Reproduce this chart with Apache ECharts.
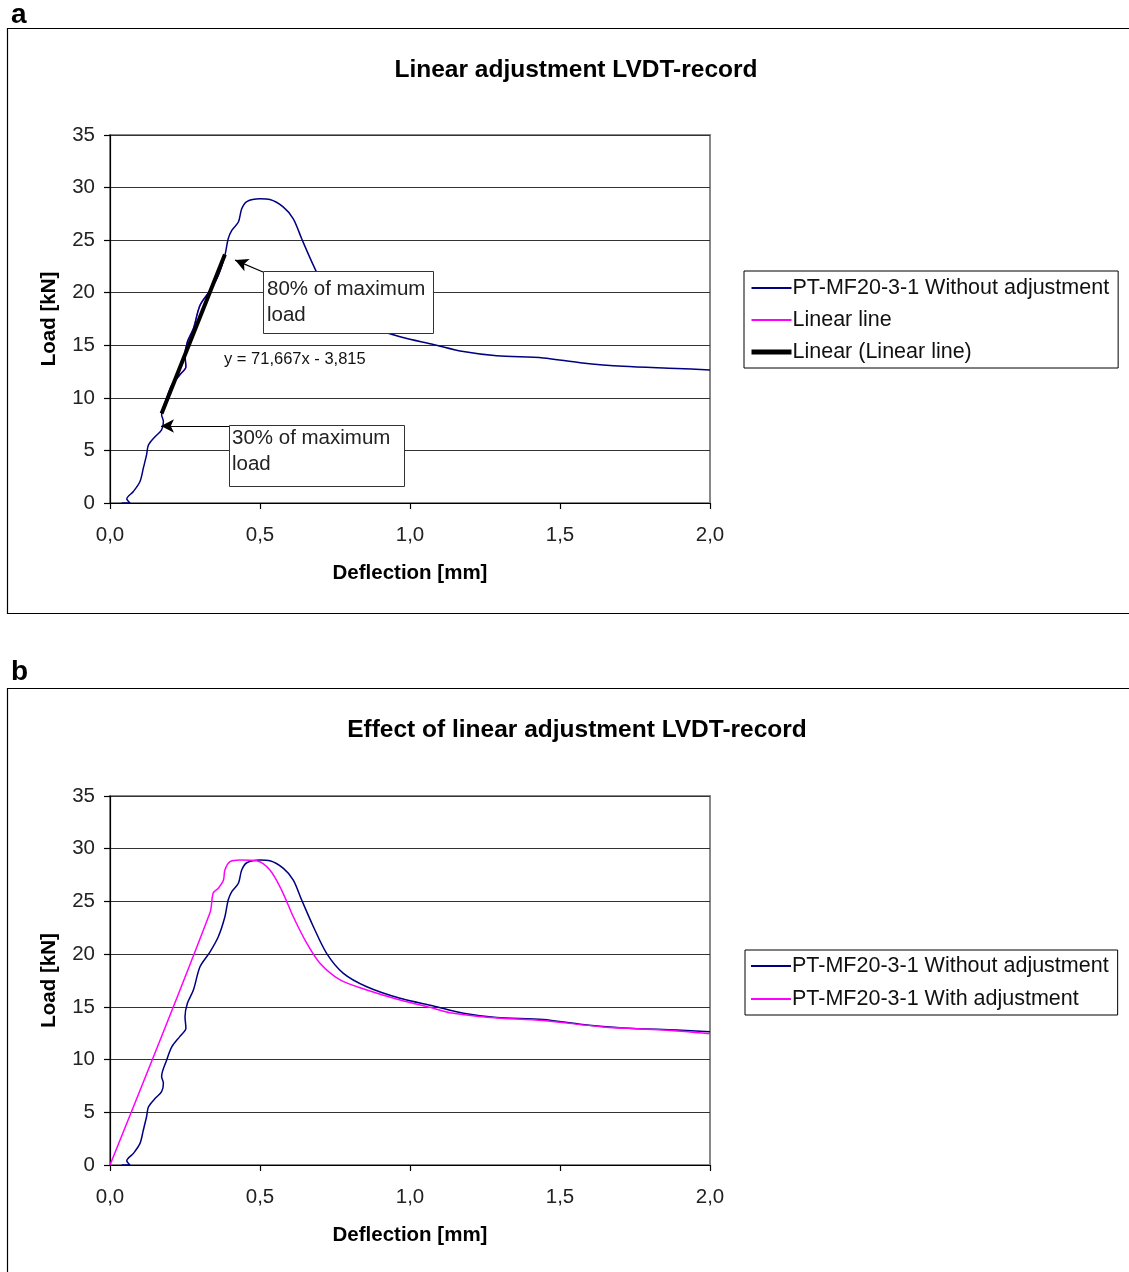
<!DOCTYPE html>
<html>
<head>
<meta charset="utf-8">
<title>Linear adjustment LVDT-record</title>
<script src="https://cdn.jsdelivr.net/npm/echarts@6/dist/echarts.min.js"></script>
<style>
  html, body { margin: 0; padding: 0; background: #fff; }
  #chart { width: 1129px; height: 1272px; }
</style>
</head>
<body>
<div id="chart"></div>
<script>
// Load-deflection record of specimen PT-MF20-3-1 (deflection in mm, load in kN)
const rawRecord = [
  [0.039, 0.0], [0.067, 0.0], [0.056, 0.4], [0.078, 1.1], [0.100, 2.05], [0.111, 3.3],
  [0.122, 4.6], [0.128, 5.5], [0.150, 6.3], [0.172, 6.95], [0.178, 7.75], [0.172, 8.4],
  [0.189, 9.96], [0.206, 11.2], [0.233, 12.2], [0.253, 12.97], [0.250, 14.07], [0.258, 15.34],
  [0.278, 16.6], [0.300, 18.8], [0.333, 20.2], [0.361, 21.65], [0.383, 23.55], [0.394, 25.13],
  [0.406, 25.93], [0.428, 26.72], [0.439, 27.98], [0.456, 28.67], [0.500, 28.93], [0.533, 28.86],
  [0.578, 28.14], [0.611, 27.03], [0.639, 25.13], [0.678, 22.6], [0.722, 20.08], [0.778, 18.18],
  [0.856, 16.91], [0.967, 15.81], [1.078, 15.08], [1.178, 14.4], [1.289, 14.0], [1.444, 13.8],
  [1.567, 13.35], [1.711, 13.0], [1.889, 12.8], [2.000, 12.65]
];

// Part of the record between 30 % and 80 % of the maximum load
const linearLine = [
  [0.172, 8.4], [0.189, 9.96], [0.206, 11.2], [0.233, 12.2], [0.253, 12.97], [0.250, 14.07],
  [0.258, 15.34], [0.278, 16.6], [0.300, 18.8], [0.333, 20.2], [0.361, 21.65], [0.383, 23.55]
];

// Least-squares fit of the linear part: y = 71,667x - 3,815
const trendSlope = 71.667;
const trendIntercept = -3.815;
const trendRange = [0.172, 0.383];
const trendLine = trendRange.map(x => [x, +(trendSlope * x + trendIntercept).toFixed(3)]);

// Record after the linear adjustment (initial part replaced by the fitted line through the origin)
const adjustedRecord = [
  [0.0, 0.0], [0.333, 23.9], [0.344, 25.8], [0.361, 26.25], [0.378, 27.0], [0.383, 27.98],
  [0.400, 28.77], [0.433, 28.93], [0.489, 28.86], [0.533, 27.98], [0.572, 26.08], [0.611, 23.55],
  [0.656, 21.03], [0.700, 19.13], [0.767, 17.55], [0.856, 16.6], [0.967, 15.65], [1.078, 14.87],
  [1.133, 14.45], [1.267, 14.0], [1.444, 13.7], [1.644, 13.1], [1.844, 12.8], [2.000, 12.45]
];

// Axis ticks
const xTicks = [0, 0.5, 1.0, 1.5, 2.0];
const yTicks = [0, 5, 10, 15, 20, 25, 30, 35];

// Arrows pointing at the 80 % and 30 % load points: [from, to]
const arrow80 = [[0.51, 21.97], [0.417, 23.1]];
const arrow30 = [[0.397, 7.32], [0.170, 7.32]];

const NAME_RAW = 'PT-MF20-3-1 Without adjustment';
const NAME_LIN = 'Linear line';
const NAME_TREND = 'Linear (Linear line)';
const NAME_ADJ = 'PT-MF20-3-1 With adjustment';

const NAVY = '#000080';
const MAGENTA = '#ff00ff';
const FONT = '"Liberation Sans", Arial, sans-serif';

function xAxisFor(gridIndex) {
  return {
    gridIndex: gridIndex, type: 'value',
    min: xTicks[0], max: xTicks[xTicks.length - 1], interval: 0.5,
    name: 'Deflection [mm]', nameLocation: 'middle', nameGap: 60,
    nameTextStyle: { fontFamily: FONT, fontSize: 20.5, fontWeight: 'bold', color: '#000' },
    axisLine: { show: true, onZero: false, lineStyle: { color: '#000', width: 1.2 } },
    axisTick: { show: true, inside: false, length: 6, lineStyle: { color: '#000', width: 1.2 } },
    axisLabel: { margin: 22, fontFamily: FONT, fontSize: 20.5, color: '#222',
      formatter: v => v.toFixed(1).replace('.', ',') },
    splitLine: { show: false }
  };
}
function yAxisFor(gridIndex) {
  return {
    gridIndex: gridIndex, type: 'value',
    min: yTicks[0], max: yTicks[yTicks.length - 1], interval: 5,
    name: 'Load [kN]', nameLocation: 'middle', nameGap: 50, nameRotate: 90,
    nameTextStyle: { fontFamily: FONT, fontSize: 20.5, fontWeight: 'bold', color: '#000' },
    axisLine: { show: true, onZero: false, lineStyle: { color: '#000', width: 1.2 } },
    axisTick: { show: true, inside: false, length: 6, lineStyle: { color: '#000', width: 1.2 } },
    axisLabel: { margin: 15, fontFamily: FONT, fontSize: 20.5, color: '#222' },
    splitLine: { show: true, lineStyle: { color: '#333', width: 1.2 } }
  };
}

// legend entries show only the line sample, no marker
function legendEntry(name, width) {
  return { name: name, lineStyle: { width: width }, itemStyle: { opacity: 0 } };
}

const legendCommon = {
  orient: 'vertical',
  backgroundColor: '#fff',
  borderColor: '#000', borderWidth: 1,
  itemWidth: 40, itemHeight: 14, itemGap: 10,
  selectedMode: false,
  textStyle: { fontFamily: FONT, fontSize: 21.5, color: '#111', padding: [0, 0, 0, -4] }
};

const chart = echarts.init(document.getElementById('chart'), null, { renderer: 'canvas' });

chart.setOption({
  backgroundColor: '#fff',
  animation: false,
  title: [
    { text: 'Linear adjustment LVDT-record', left: 571, top: 53, textAlign: 'center',
      textStyle: { fontFamily: FONT, fontSize: 24.5, fontWeight: 'bold', color: '#000' } },
    { text: 'Effect of linear adjustment LVDT-record', left: 572, top: 713, textAlign: 'center',
      textStyle: { fontFamily: FONT, fontSize: 24.5, fontWeight: 'bold', color: '#000' } }
  ],
  grid: [
    { left: 110, top: 135, width: 600, height: 368, show: true, borderColor: '#888', borderWidth: 2 },
    { left: 110, top: 796, width: 600, height: 369, show: true, borderColor: '#888', borderWidth: 2 }
  ],
  xAxis: [xAxisFor(0), xAxisFor(1)],
  yAxis: [yAxisFor(0), yAxisFor(1)],
  legend: [
    Object.assign({}, legendCommon, {
      left: 744, top: 271, padding: [6, 9, 5, 5],
      data: [
        legendEntry(NAME_RAW, 2),
        legendEntry(NAME_LIN, 2),
        legendEntry(NAME_TREND, 5)
      ]
    }),
    Object.assign({}, legendCommon, {
      left: 745, top: 950, padding: [5, 9, 5, 5],
      itemGap: 11,
      data: [
        legendEntry(NAME_RAW, 2),
        legendEntry(NAME_ADJ, 2)
      ]
    })
  ],
  series: [
    {
      name: NAME_LIN, type: 'line', xAxisIndex: 0, yAxisIndex: 0, z: 2,
      data: linearLine, showSymbol: false, symbol: 'none', smooth: 0.3,
      lineStyle: { color: MAGENTA, width: 1.2 }, itemStyle: { color: MAGENTA }
    },
    {
      name: NAME_RAW, type: 'line', xAxisIndex: 0, yAxisIndex: 0, z: 3,
      data: rawRecord, showSymbol: false, symbol: 'none', smooth: 0.3,
      lineStyle: { color: NAVY, width: 1.5 }, itemStyle: { color: NAVY },
      markLine: {
        silent: true, animation: false,
        symbol: ['none', 'arrow'], symbolSize: [10, 13],
        label: { show: false },
        lineStyle: { color: '#000', width: 1.2, type: 'solid' },
        data: [
          [{ coord: arrow80[0] }, { coord: arrow80[1] }],
          [{ coord: arrow30[0] }, { coord: arrow30[1] }]
        ]
      }
    },
    {
      name: NAME_TREND, type: 'line', xAxisIndex: 0, yAxisIndex: 0, z: 4,
      data: trendLine, showSymbol: false, symbol: 'none',
      lineStyle: { color: '#000', width: 4 }, itemStyle: { color: '#000' }
    },
    {
      name: NAME_RAW, type: 'line', xAxisIndex: 1, yAxisIndex: 1, z: 3,
      data: rawRecord, showSymbol: false, symbol: 'none', smooth: 0.3,
      lineStyle: { color: NAVY, width: 1.5 }, itemStyle: { color: NAVY }
    },
    {
      name: NAME_ADJ, type: 'line', xAxisIndex: 1, yAxisIndex: 1, z: 4,
      data: adjustedRecord, showSymbol: false, symbol: 'none', smooth: 0.3,
      lineStyle: { color: MAGENTA, width: 1.5 }, itemStyle: { color: MAGENTA }
    }
  ],
  graphic: [
    // panel frames and letters
    { type: 'rect', shape: { x: 7.5, y: 28.5, width: 1140, height: 585 },
      style: { fill: null, stroke: '#000', lineWidth: 1.2 }, z: 0 },
    { type: 'rect', shape: { x: 7.5, y: 688.5, width: 1140, height: 620 },
      style: { fill: null, stroke: '#000', lineWidth: 1.2 }, z: 0 },
    { type: 'text', left: 11, top: 1,
      style: { text: 'a', fontFamily: FONT, fontSize: 28, fontWeight: 'bold', fill: '#000' } },
    { type: 'text', left: 11, top: 658,
      style: { text: 'b', fontFamily: FONT, fontSize: 28, fontWeight: 'bold', fill: '#000' } },
    // annotation boxes
    { type: 'rect', z: 10, shape: { x: 263.5, y: 271.5, width: 170, height: 62 },
      style: { fill: '#fff', stroke: '#333', lineWidth: 1 } },
    { type: 'text', z: 11, left: 267, top: 276,
      style: { text: '80% of maximum\nload', fontFamily: FONT, fontSize: 20.5, lineHeight: 26, fill: '#222' } },
    { type: 'rect', z: 10, shape: { x: 229.5, y: 425.5, width: 175, height: 61 },
      style: { fill: '#fff', stroke: '#333', lineWidth: 1 } },
    { type: 'text', z: 11, left: 232, top: 425,
      style: { text: '30% of maximum\nload', fontFamily: FONT, fontSize: 20.5, lineHeight: 26, fill: '#222' } },
    // trend line equation
    { type: 'text', z: 11, left: 224, top: 351,
      style: { text: 'y = 71,667x - 3,815', fontFamily: FONT, fontSize: 16.5, fill: '#111' } }
  ]
});
</script>
</body>
</html>
